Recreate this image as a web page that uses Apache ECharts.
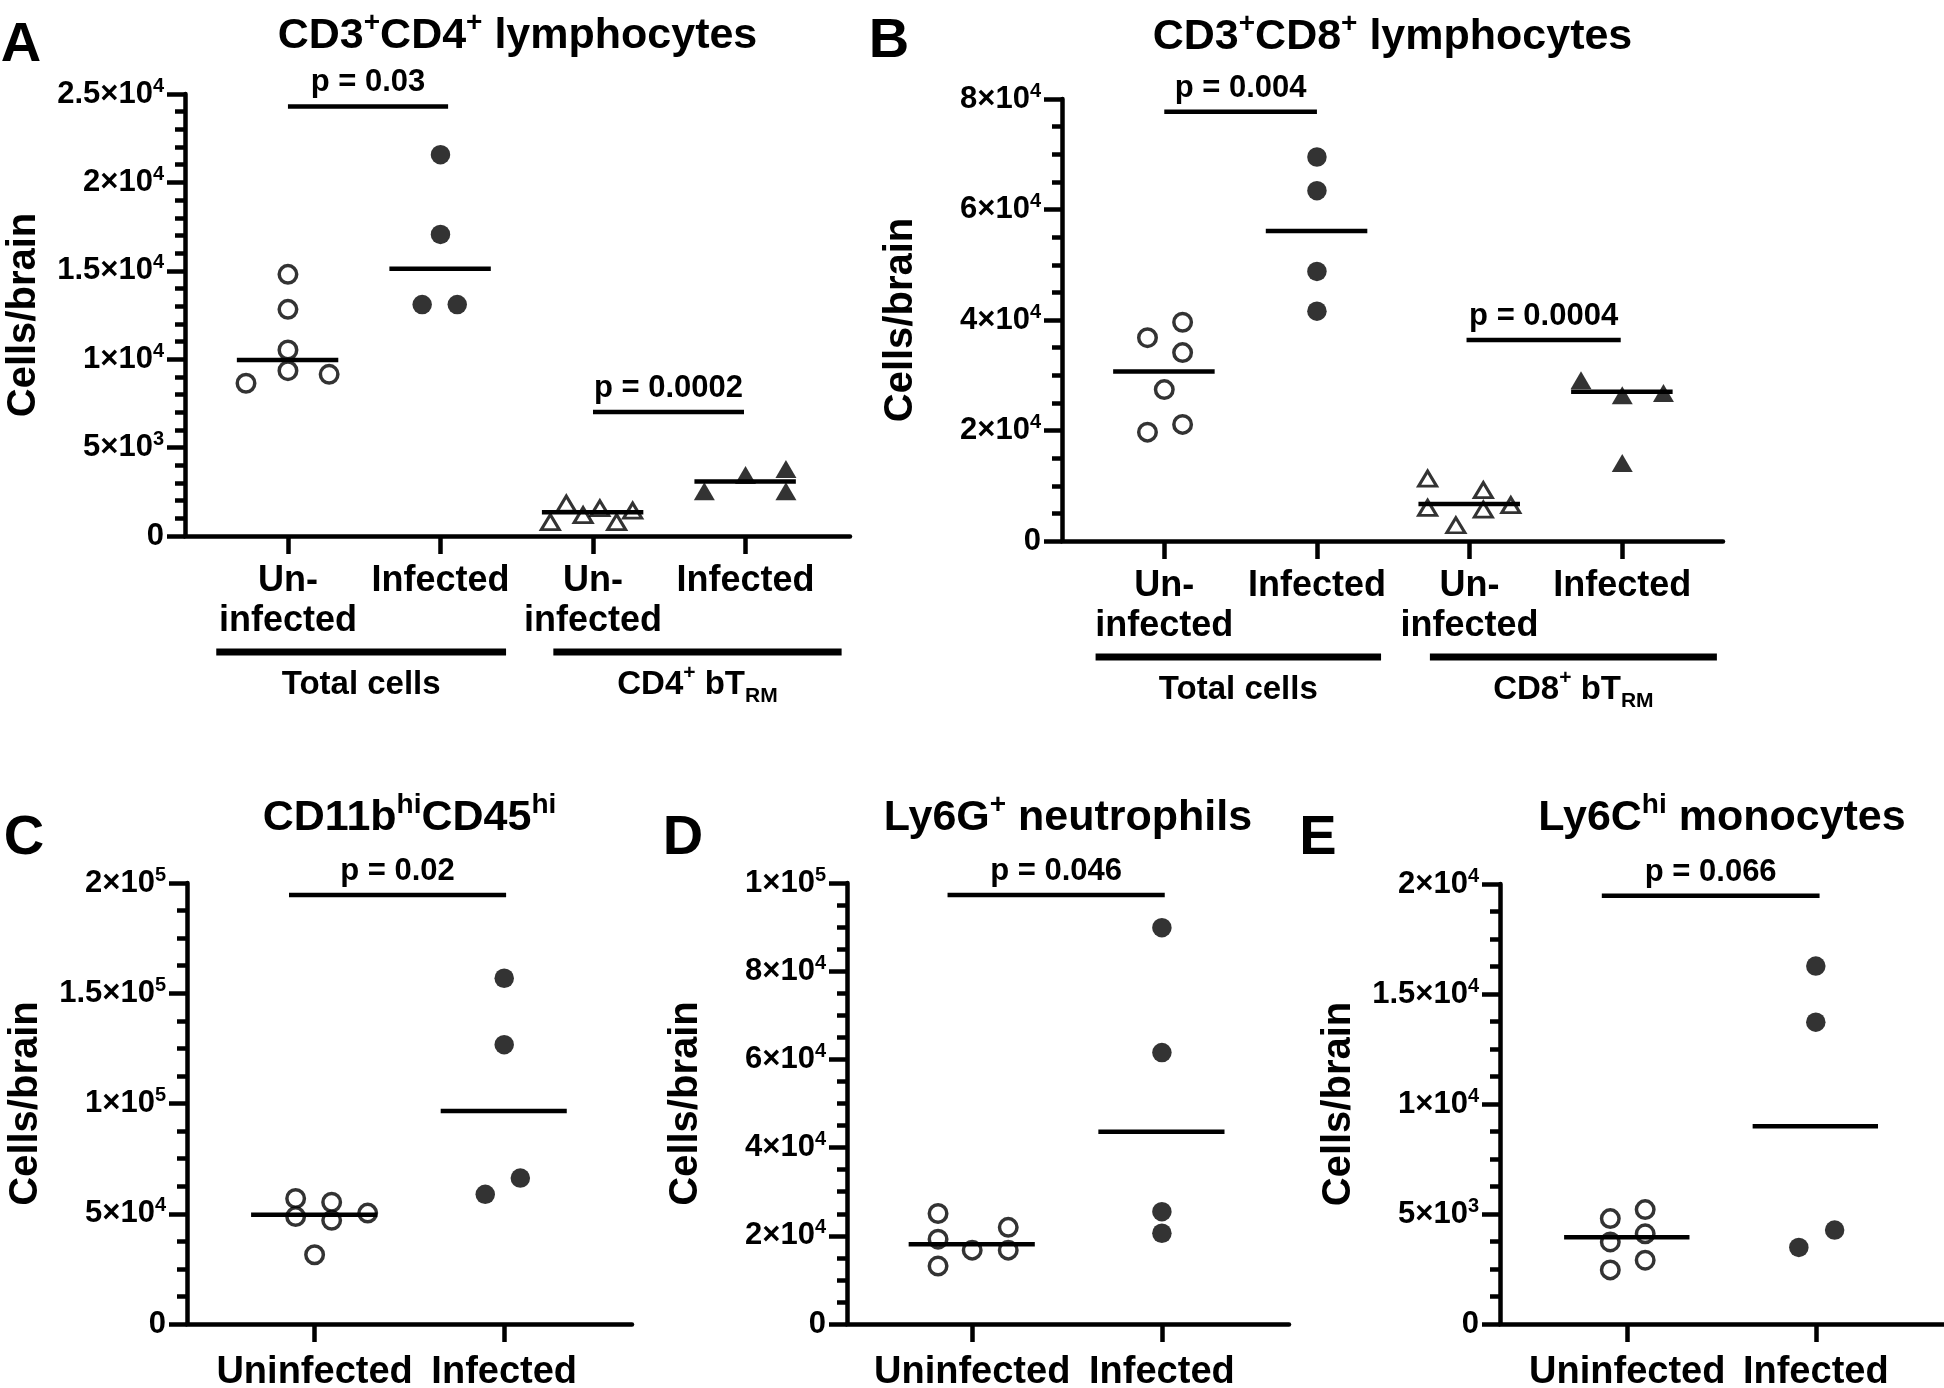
<!DOCTYPE html>
<html><head><meta charset="utf-8">
<script src="https://cdn.jsdelivr.net/npm/echarts@6/dist/echarts.min.js"></script>
<style>html,body{margin:0;padding:0;background:#fff}#c{width:1944px;height:1388px}</style>
</head><body><div id="c"></div>
<script>
// ================= DATA =================
// Panel A : CD3+CD4+ lymphocytes
const A_title = 'CD3^{+}CD4^{+} lymphocytes';
const A_xLabels = ['Un-\ninfected', 'Infected', 'Un-\ninfected', 'Infected'];
const A_yTicks = ['0', '5×10^{3}', '1×10^{4}', '1.5×10^{4}', '2×10^{4}', '2.5×10^{4}'];
const A_totUninf = [14800, 12820, 10520, 9350, 8640, 9145];
const A_totUninfJit = [0, 0, 0, 0, -0.275, 0.27];
const A_totUninfMed = 9950;
const A_totInf = [21570, 17060, 13090, 13090];
const A_totInfJit = [0, 0, -0.12, 0.11];
const A_totInfMed = 15110;
const A_trmUninf = [780, 1830, 1180, 1570, 780, 1440];
const A_trmUninfJit = [-0.28, -0.175, -0.065, 0.045, 0.155, 0.26];
const A_trmUninfMed = 1350;
const A_trmInf = [2530, 3450, 3790, 2530];
const A_trmInfJit = [-0.27, 0, 0.265, 0.265];
const A_trmInfMed = 3080;
const A_pTexts = ['p = 0.03', 'p = 0.0002'];
const A_pBrackets = [[1, 2.05, 24300], [3, 3.99, 7010]];
const A_groupTexts = ['Total cells', 'CD4^{+} bT_{RM}'];
const A_groupSpans = [[0.53, 2.43], [2.74, 4.63]];

// Panel B : CD3+CD8+ lymphocytes
const B_title = 'CD3^{+}CD8^{+} lymphocytes';
const B_xLabels = ['Un-\ninfected', 'Infected', 'Un-\ninfected', 'Infected'];
const B_yTicks = ['0', '2×10^{4}', '4×10^{4}', '6×10^{4}', '8×10^{4}'];
const B_totUninf = [36800, 39600, 34100, 27400, 19700, 21100];
const B_totUninfJit = [-0.11, 0.12, 0.12, 0, -0.11, 0.12];
const B_totUninfMed = 30700;
const B_totInf = [69500, 63400, 48800, 41600];
const B_totInfJit = [0, 0, 0, 0];
const B_totInfMed = 56100;
const B_trmUninf = [11300, 6000, 2850, 9200, 5700, 6500];
const B_trmUninfJit = [-0.275, -0.275, -0.09, 0.09, 0.09, 0.27];
const B_trmUninfMed = 6700;
const B_trmInf = [29100, 26400, 26800, 14100];
const B_trmInfJit = [-0.27, 0, 0.27, 0];
const B_trmInfMed = 27000;
const B_pTexts = ['p = 0.004', 'p = 0.0004'];
const B_pBrackets = [[1, 2, 77700], [2.98, 3.99, 36400]];
const B_groupTexts = ['Total cells', 'CD8^{+} bT_{RM}'];
const B_groupSpans = [[0.55, 2.42], [2.74, 4.62]];

// Panel C : CD11b hi CD45 hi
const C_title = 'CD11b^{hi}CD45^{hi}';
const C_xLabels = ['Uninfected', 'Infected'];
const C_yTicks = ['0', '5×10^{4}', '1×10^{5}', '1.5×10^{5}', '2×10^{5}'];
const C_uninf = [56900, 55200, 48700, 47000, 50300, 31400];
const C_uninfJit = [-0.1, 0.09, -0.1, 0.09, 0.28, 0];
const C_uninfMed = 49500;
const C_inf = [156800, 126700, 58800, 66200];
const C_infJit = [0, 0, -0.1, 0.085];
const C_infMed = 96600;
const C_pTexts = ['p = 0.02'];
const C_pBrackets = [[0.865, 2.01, 194600]];

// Panel D : Ly6G+ neutrophils
const D_title = 'Ly6G^{+} neutrophils';
const D_xLabels = ['Uninfected', 'Infected'];
const D_yTicks = ['0', '2×10^{4}', '4×10^{4}', '6×10^{4}', '8×10^{4}', '1×10^{5}'];
const D_uninf = [25050, 19240, 13140, 16750, 21920, 16750];
const D_uninfJit = [-0.18, -0.18, -0.18, 0, 0.19, 0.19];
const D_uninfMed = 18060;
const D_inf = [89880, 61540, 25480, 20580];
const D_infJit = [0, 0, 0, 0];
const D_infMed = 43570;
const D_pTexts = ['p = 0.046'];
const D_pBrackets = [[0.87, 2.015, 97300]];

// Panel E : Ly6C hi monocytes
const E_title = 'Ly6C^{hi} monocytes';
const E_xLabels = ['Uninfected', 'Infected'];
const E_yTicks = ['0', '5×10^{3}', '1×10^{4}', '1.5×10^{4}', '2×10^{4}'];
const E_uninf = [4790, 5200, 3730, 4100, 2460, 2900];
const E_uninfJit = [-0.09, 0.095, -0.09, 0.095, -0.09, 0.095];
const E_uninfMed = 3940;
const E_inf = [16270, 13720, 3480, 4270];
const E_infJit = [0, 0, -0.09, 0.1];
const E_infMed = 8990;
const E_pTexts = ['p = 0.066'];
const E_pBrackets = [[0.865, 2.02, 19470]];

const yName = 'Cells/brain';
const panelLetters = ['A', 'B', 'C', 'D', 'E'];

// ================= STYLE / LAYOUT =================
const FONT = '"Liberation Sans", Arial, Helvetica, sans-serif';
const BLACK = '#000';
const LW = 4.5;

function toRich(s) {
  return s.replace(/\^\{([^}]*)\}/g, '{sup|$1}').replace(/_\{([^}]*)\}/g, '{sub|$1}');
}
function richSet(supSize, supLH, subLH) {
  return {
    sup: {fontSize: supSize, fontWeight: 'bold', fontFamily: FONT, color: BLACK, fill: BLACK, verticalAlign: 'top', lineHeight: supLH},
    sub: {fontSize: supSize, fontWeight: 'bold', fontFamily: FONT, color: BLACK, fill: BLACK, verticalAlign: 'bottom', lineHeight: subLH || supLH}
  };
}

const MK = {
  openCircle: {symbol: 'circle', symbolSize: 17.5, itemStyle: {color: '#fff', borderColor: BLACK, borderWidth: 3.5}},
  fillCircle: {symbol: 'circle', symbolSize: 19.5, itemStyle: {color: BLACK, borderWidth: 0}},
  openTri: {symbol: 'triangle', symbolSize: [18, 15], itemStyle: {color: '#fff', borderColor: BLACK, borderWidth: 3}},
  fillTri: {symbol: 'triangle', symbolSize: [21, 18], itemStyle: {color: BLACK, borderWidth: 0}}
};

const panels = [
  {grid: {left: 185, top: 94, width: 665, height: 442}, xMin: 0.325, xMax: 4.685, yMax: 25000, yInt: 5000, minor: 5,
   yTicks: A_yTicks, xLabels: A_xLabels, xFont: 36, xLH: 40, xMargin: 25, title: A_title,
   letterPos: [21, 46], titleY: 36,
   groups: [[1, A_totUninf, A_totUninfJit, 'openCircle'], [2, A_totInf, A_totInfJit, 'fillCircle'],
            [3, A_trmUninf, A_trmUninfJit, 'openTri'], [4, A_trmInf, A_trmInfJit, 'fillTri']],
   medians: [[1, A_totUninfMed], [2, A_totInfMed], [3, A_trmUninfMed], [4, A_trmInfMed]],
   pTexts: A_pTexts, pBrackets: A_pBrackets, groupTexts: A_groupTexts, groupSpans: A_groupSpans},
  {grid: {left: 1062, top: 99, width: 661, height: 442}, xMin: 0.33, xMax: 4.66, yMax: 80000, yInt: 20000, minor: 4,
   yTicks: B_yTicks, xLabels: B_xLabels, xFont: 36, xLH: 40, xMargin: 25, title: B_title,
   letterPos: [889, 42], titleY: 37,
   groups: [[1, B_totUninf, B_totUninfJit, 'openCircle'], [2, B_totInf, B_totInfJit, 'fillCircle'],
            [3, B_trmUninf, B_trmUninfJit, 'openTri'], [4, B_trmInf, B_trmInfJit, 'fillTri']],
   medians: [[1, B_totUninfMed], [2, B_totInfMed], [3, B_trmUninfMed], [4, B_trmInfMed]],
   pTexts: B_pTexts, pBrackets: B_pBrackets, groupTexts: B_groupTexts, groupSpans: B_groupSpans},
  {grid: {left: 187, top: 883, width: 445, height: 441}, xMin: 0.327, xMax: 2.674, yMax: 200000, yInt: 50000, minor: 4,
   yTicks: C_yTicks, xLabels: C_xLabels, xFont: 38, xLH: 44, xMargin: 27, title: C_title,
   letterPos: [24, 839], titleY: 818,
   groups: [[1, C_uninf, C_uninfJit, 'openCircle'], [2, C_inf, C_infJit, 'fillCircle']],
   medians: [[1, C_uninfMed], [2, C_infMed]],
   pTexts: C_pTexts, pBrackets: C_pBrackets},
  {grid: {left: 847, top: 883, width: 442, height: 441}, xMin: 0.34, xMax: 2.67, yMax: 100000, yInt: 20000, minor: 4,
   yTicks: D_yTicks, xLabels: D_xLabels, xFont: 38, xLH: 44, xMargin: 27, title: D_title,
   letterPos: [683, 839], titleY: 818,
   groups: [[1, D_uninf, D_uninfJit, 'openCircle'], [2, D_inf, D_infJit, 'fillCircle']],
   medians: [[1, D_uninfMed], [2, D_infMed]],
   pTexts: D_pTexts, pBrackets: D_pBrackets},
  {grid: {left: 1500, top: 884, width: 444, height: 440}, xMin: 0.325, xMax: 2.68, yMax: 20000, yInt: 5000, minor: 4,
   yTicks: E_yTicks, xLabels: E_xLabels, xFont: 38, xLH: 44, xMargin: 27, title: E_title,
   letterPos: [1318, 839], titleY: 818,
   groups: [[1, E_uninf, E_uninfJit, 'openCircle'], [2, E_inf, E_infJit, 'fillCircle']],
   medians: [[1, E_uninfMed], [2, E_infMed]],
   pTexts: E_pTexts, pBrackets: E_pBrackets}
];

const grids = [], xAxes = [], yAxes = [], series = [], graphics = [];

panels.forEach((p, k) => {
  grids.push(Object.assign({containLabel: false, outerBoundsMode: 'none'}, p.grid));
  const xl = p.xLabels;
  xAxes.push({
    type: 'value', gridIndex: k, min: p.xMin, max: p.xMax,
    splitLine: {show: false},
    axisLine: {show: true, lineStyle: {color: BLACK, width: LW}},
    axisTick: {show: true, customValues: xl.map((_, i) => i + 1), length: 18, lineStyle: {color: BLACK, width: LW}},
    axisLabel: {show: true, customValues: xl.map((_, i) => i + 1), formatter: v => xl[Math.round(v) - 1] || '',
      fontSize: p.xFont, lineHeight: p.xLH, fontWeight: 'bold', fontFamily: FONT, color: BLACK, margin: p.xMargin}
  });
  const yt = p.yTicks, yi = p.yInt;
  yAxes.push({
    type: 'value', gridIndex: k, min: 0, max: p.yMax, interval: yi,
    name: yName, nameLocation: 'middle', nameGap: 141,
    nameTextStyle: {fontSize: 40, fontWeight: 'bold', fontFamily: FONT, color: BLACK},
    splitLine: {show: false},
    axisLine: {show: true, lineStyle: {color: BLACK, width: LW}},
    axisTick: {show: true, length: 18, lineStyle: {color: BLACK, width: LW}},
    minorTick: {show: true, splitNumber: p.minor, length: 10, lineStyle: {color: BLACK, width: LW}},
    axisLabel: {formatter: v => toRich(yt[Math.round(v / yi)] || ''), fontSize: 31, lineHeight: 36, fontWeight: 'bold',
      fontFamily: FONT, color: BLACK, margin: 21, rich: richSet(20, 20)}
  });

  // data points
  p.groups.forEach(g => {
    const [cat, vals, jit, mk] = g;
    series.push(Object.assign({
      type: 'scatter', xAxisIndex: k, yAxisIndex: k, silent: true, z: 3,
      data: vals.map((v, i) => [cat + jit[i], v])
    }, JSON.parse(JSON.stringify(MK[mk]))));
  });

  // median lines
  series.push({
    type: 'custom', xAxisIndex: k, yAxisIndex: k, silent: true, z: 5, clip: false,
    data: p.medians,
    renderItem: (params, api) => {
      const c = api.value(0), m = api.value(1);
      const a = api.coord([c - 0.335, m]), b = api.coord([c + 0.33, m]);
      return {type: 'line', shape: {x1: a[0], y1: a[1], x2: b[0], y2: b[1]}, style: {stroke: BLACK, lineWidth: LW}};
    }
  });

  // p-value brackets
  const pt = p.pTexts;
  series.push({
    type: 'custom', xAxisIndex: k, yAxisIndex: k, silent: true, z: 5, clip: false,
    data: p.pBrackets,
    renderItem: (params, api) => {
      const a = api.coord([api.value(0), api.value(2)]), b = api.coord([api.value(1), api.value(2)]);
      return {type: 'group', children: [
        {type: 'line', shape: {x1: a[0], y1: a[1], x2: b[0], y2: b[1]}, style: {stroke: BLACK, lineWidth: LW}},
        {type: 'text', style: {text: pt[params.dataIndex], x: (a[0] + b[0]) / 2, y: a[1] - 8, align: 'center', verticalAlign: 'bottom',
          fontSize: 31, fontWeight: 'bold', fontFamily: FONT, fill: BLACK}}
      ]};
    }
  });

  // group lines under the x axis (panels A & B)
  if (p.groupSpans) {
    const gt = p.groupTexts;
    series.push({
      type: 'custom', xAxisIndex: k, yAxisIndex: k, silent: true, z: 5, clip: false,
      data: p.groupSpans,
      renderItem: (params, api) => {
        const a = api.coord([api.value(0), 0]), b = api.coord([api.value(1), 0]);
        const y = a[1] + 116;
        return {type: 'group', children: [
          {type: 'line', shape: {x1: a[0], y1: y, x2: b[0], y2: y}, style: {stroke: BLACK, lineWidth: 7}},
          {type: 'text', style: {text: toRich(gt[params.dataIndex]), x: (a[0] + b[0]) / 2, y: y + 33, align: 'center', verticalAlign: 'middle',
            fontSize: 33, lineHeight: 44, fontWeight: 'bold', fontFamily: FONT, fill: BLACK, rich: richSet(21, 14, 8)}}
        ]};
      }
    });
  }

  // title and panel letter
  graphics.push({type: 'text', x: p.grid.left + p.grid.width / 2, y: p.titleY, silent: true,
    style: {text: toRich(p.title), align: 'center', verticalAlign: 'middle', fontSize: 43, lineHeight: 54,
      fontWeight: 'bold', fontFamily: FONT, fill: BLACK, rich: richSet(28, 22)}});
  graphics.push({type: 'text', x: p.letterPos[0], y: p.letterPos[1], silent: true,
    style: {text: panelLetters[k], align: 'center', verticalAlign: 'middle', fontSize: 56, fontWeight: 'bold', fontFamily: FONT, fill: BLACK}});
});

const chart = echarts.init(document.getElementById('c'), null, {renderer: 'canvas'});
chart.setOption({
  backgroundColor: '#fff',
  animation: false,
  textStyle: {fontFamily: FONT},
  grid: grids, xAxis: xAxes, yAxis: yAxes, series: series, graphic: graphics
});
</script>
</body></html>
